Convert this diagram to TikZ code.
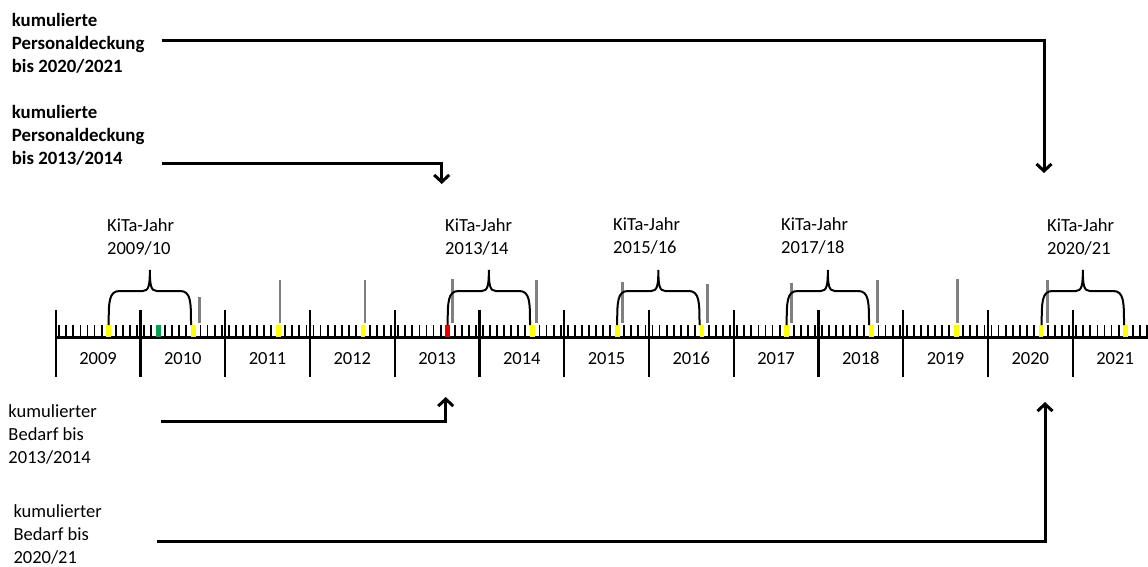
\documentclass[tikz,border=0pt]{standalone}
\usepackage{fontspec}
\setmainfont{Carlito}
\usetikzlibrary{arrows.meta}
\definecolor{tyellow}{RGB}{255,255,0}
\definecolor{tred}{RGB}{230,0,0}
\definecolor{tgreen}{RGB}{0,160,80}
\definecolor{tgray}{RGB}{128,128,128}
\begin{document}
\begin{tikzpicture}[x=1pt,y=-1pt,
  lbl/.style={anchor=base west, inner sep=0pt, align=left, font=\fontsize{18.5}{23}\selectfont},
  blbl/.style={anchor=base west, inner sep=0pt, align=left, font=\fontsize{18.8}{23}\selectfont\bfseries},
  yearlbl/.style={anchor=base, inner sep=0pt, font=\fontsize{18.5}{20}\selectfont},
  conn/.style={line width=3pt, -{Straight Barb[length=7pt,width=15pt]}},
  axisline/.style={line width=2.3pt},
  majortick/.style={line width=2.3pt},
  minortick/.style={line width=1.8pt},
  graybar/.style={tgray, line width=2.6pt},
  kbrace/.style={line width=2pt}
]
\useasboundingbox (0,0) rectangle (1148,567);

% axis
\draw[axisline] (55.7,337.5) -- (1150,337.5);
\foreach \i [evaluate=\i as \yr using int(2009+\i)] in {0,...,12} {
  \pgfmathsetmacro\xs{55.7+84.75*\i}
  \draw[majortick] (\xs,310) -- (\xs,377);
  \node[yearlbl] (y\yr) at (\xs+42.4,364) {\yr};
  \foreach \k in {0,...,11} {
    \ifnum\k=7\relax\else
      \draw[minortick] ({\xs+(\k+0.5)*84.75/12},325) -- ({\xs+(\k+0.5)*84.75/12},337.5);
    \fi
  }
  \fill[tyellow] ({\xs+7.5*84.75/12-2.4},325) rectangle ({\xs+7.5*84.75/12+2.4},336.5);
}
% red 2013, green 2010
\fill[tred] ({394.7+7.5*84.75/12-2.4},325) rectangle ({394.7+7.5*84.75/12+2.4},336.5);
\fill[white] ({140.45+2.5*84.75/12-2.6},325) rectangle ({140.45+2.5*84.75/12+2.6},336.5);
\fill[tgreen] ({140.45+2.5*84.75/12-2.4},325) rectangle ({140.45+2.5*84.75/12+2.4},336.5);

% gray bars
\draw[graybar] (199.3,297) -- (199.3,323);
\foreach \x/\t in {280/280, 365/280, 452.3/279, 536.7/280, 622.3/282, 707.3/284, 791.7/283, 877.3/280, 957.3/279, 1047.7/280} {
  \draw[graybar] (\x,\t) -- (\x,323);
}

% braces
\foreach \a/\b in {108.7/191, 447.7/530, 617.2/699.5, 786.7/869, 1041.7/1124} {
  \pgfmathsetmacro\m{(\a+\b)/2}
  \draw[kbrace] (\a,325) .. controls (\a,302) and (\a,291) .. (\a+11,291) -- (\m-7,291)
     .. controls (\m-1,291) and (\m,285) .. (\m,270)
     .. controls (\m,285) and (\m+1,291) .. (\m+7,291) -- (\b-11,291)
     .. controls (\b,291) and (\b,302) .. (\b,325);
}

% KiTa labels (anchor = baseline of last line)
\node[lbl] (k0910) at (107,254) {KiTa-Jahr\\2009/10};
\node[lbl] (k1314) at (445,254) {KiTa-Jahr\\2013/14};
\node[lbl] (k1516) at (613,253) {KiTa-Jahr\\2015/16};
\node[lbl] (k1718) at (781,253) {KiTa-Jahr\\2017/18};
\node[lbl] (k2021) at (1047,254) {KiTa-Jahr\\2020/21};

% side labels
\node[blbl] (pd2021) at (11.7,73) {kumulierte\\Personaldeckung\\bis 2020/2021};
\node[blbl] (pd1314) at (11.7,164.5) {kumulierte\\Personaldeckung\\bis 2013/2014};
\node[lbl] (bd1314) at (8.3,463) {kumulierter\\Bedarf bis\\2013/2014};
\node[lbl] (bd2021) at (13.3,563) {kumulierter\\Bedarf bis\\2020/21};

% connectors
\coordinate (s1) at (161.7,40.7);
\coordinate (t1) at (1044,173);
\coordinate (s2) at (161.7,163.5);
\coordinate (t2) at (441.7,184);
\coordinate (s3) at (161,421);
\coordinate (t3) at (445.7,397);
\coordinate (s4) at (156.7,541);
\coordinate (t4) at (1045,402);
\draw[conn] (s1) -| (t1);
\draw[conn] (s2) -| (t2);
\draw[conn] (s3) -| (t3);
\draw[conn] (s4) -| (t4);
\end{tikzpicture}
\end{document}
